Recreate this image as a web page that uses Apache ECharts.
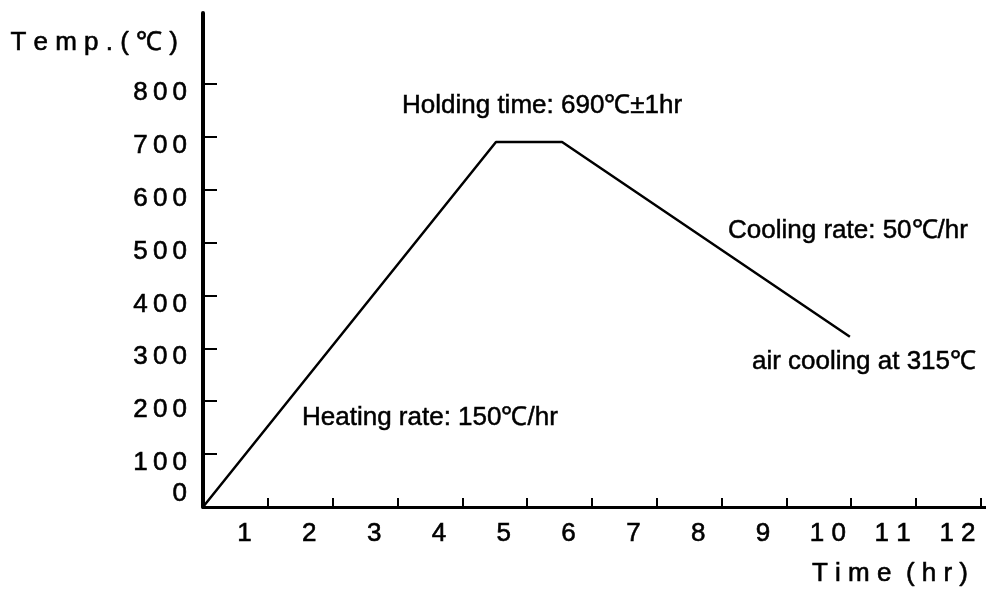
<!DOCTYPE html>
<html>
<head>
<meta charset="utf-8">
<script src="https://cdn.jsdelivr.net/npm/echarts@6/dist/echarts.min.js"></script>
<style>
html,body{margin:0;padding:0;background:#fff;}
#chart{width:986px;height:591px;}
</style>
</head>
<body>
<div id="chart"></div>
<script>
// ---- data ----
const timeHr = [0, 4.52, 5.54, 9.98];
const tempC = [0, 690, 690, 322];
const xTickValues = [1, 2, 3, 4, 5, 6, 7, 8, 9, 10, 11, 12];
const xTickLabels = ['1', '2', '3', '4', '5', '6', '7', '8', '9', '10', '11', '12'];
const yLabelValues = [0, 100, 200, 300, 400, 500, 600, 700, 800];
const yTickValues = [100, 200, 300, 400, 500, 600, 700, 800];
const yAxisTitle = 'Temp.(℃)';
const xAxisTitle = 'Time (hr)';
const annotations = [
  'Holding time: 690℃±1hr',
  'Cooling rate: 50℃/hr',
  'air cooling at 315℃',
  'Heating rate: 150℃/hr'
];

const FONT = '"Liberation Sans", Arial, sans-serif';
const spaced = (s, sep) => s.split('').join(sep);
// x labels in the original sit left of their tick (inside the hour interval)
const LABEL_SHIFT = 0.36;
const xLabelPos = xTickValues.map(v => v - LABEL_SHIFT);

const chart = echarts.init(document.getElementById('chart'), null, {renderer: 'canvas'});
const annPos = [[402, 106], [728, 231], [752, 362], [302, 418]];
const THICK = {textBorderColor: '#000', textBorderWidth: 0.6};

chart.setOption({
  animation: false,
  backgroundColor: '#fff',
  grid: {left: 203, top: 13, right: 0, bottom: 84, containLabel: false, outerBoundsMode: 'none'},
  xAxis: {
    type: 'value', min: 0, max: 12.08,
    name: xAxisTitle.split(' ').map(w => spaced(w, ' ')).join('  '),
    nameLocation: 'end', nameGap: 0, nameMoveOverlap: false,
    nameTextStyle: Object.assign({fontFamily: FONT, fontSize: 26, color: '#000', align: 'right', verticalAlign: 'top', lineHeight: 26, padding: [54, 18, 0, 0]}, THICK),
    axisLine: {lineStyle: {color: '#000', width: 3}},
    axisTick: {show: true, inside: true, length: 9, lineStyle: {color: '#000', width: 2}, customValues: xTickValues},
    axisLabel: Object.assign({
      customValues: xLabelPos,
      showMinLabel: true, showMaxLabel: true, hideOverlap: false,
      formatter: v => {
        const i = xLabelPos.findIndex(p => Math.abs(p - v) < 1e-6);
        return i < 0 ? '' : spaced(xTickLabels[i], ' ');
      },
      fontFamily: FONT, fontSize: 26, color: '#000', lineHeight: 26,
      margin: 14
    }, THICK),
    splitLine: {show: false}
  },
  yAxis: {
    type: 'value', min: 0, max: 934,
    name: spaced(yAxisTitle, ' '),
    nameLocation: 'end', nameGap: -30, nameMoveOverlap: false,
    nameTextStyle: Object.assign({fontFamily: FONT, fontSize: 26, color: '#000', align: 'right', verticalAlign: 'middle', padding: [0, 25, 0, 0]}, THICK),
    axisLine: {lineStyle: {color: '#000', width: 4}},
    axisTick: {show: true, inside: true, length: 14, lineStyle: {color: '#000', width: 2}, customValues: yTickValues},
    axisLabel: {
      customValues: yLabelValues,
      showMinLabel: true, showMaxLabel: true, hideOverlap: false,
      formatter: v => v === 0 ? '{z|0}' : '{n|' + spaced(String(v), '\u2009') + '}',
      margin: 16,
      rich: {
        n: Object.assign({fontFamily: FONT, fontSize: 26, color: '#000', lineHeight: 26, padding: [18, 0, 0, 0]}, THICK),
        z: Object.assign({fontFamily: FONT, fontSize: 26, color: '#000', lineHeight: 26, padding: [0, 0, 26, 0]}, THICK)
      }
    },
    splitLine: {show: false}
  },
  series: [{
    type: 'line',
    data: timeHr.map((t, i) => [t, tempC[i]]),
    symbol: 'none',
    lineStyle: {color: '#000', width: 2.5},
    z: 5
  }],
  graphic: annotations.map((t, i) => ({
    type: 'text', x: annPos[i][0], y: annPos[i][1],
    style: {text: t, font: '26px ' + FONT, fill: '#000', align: 'left', verticalAlign: 'middle', stroke: '#000', lineWidth: 0.5}
  }))
});
</script>
</body>
</html>
